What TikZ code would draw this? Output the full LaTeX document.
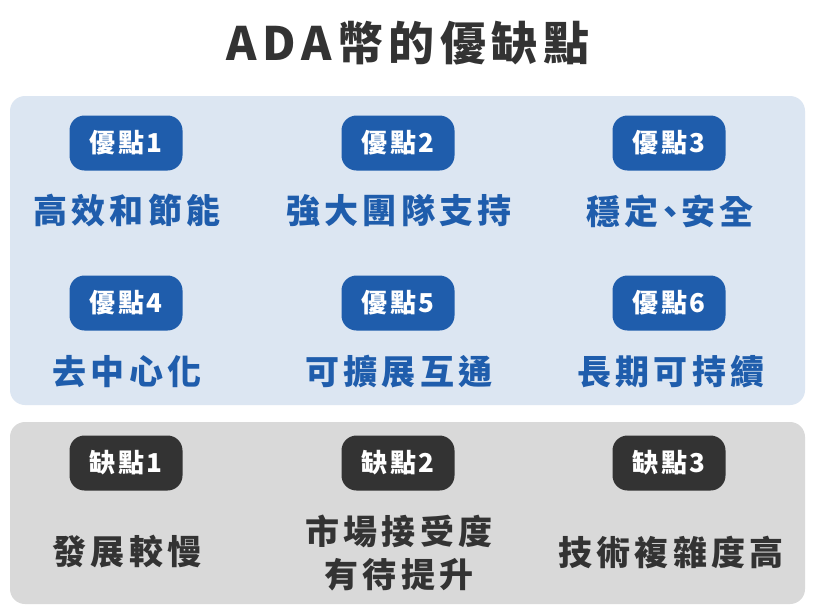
\documentclass[tikz,border=0pt]{standalone}
\usepackage{fontspec}
\usepackage{tikz}
\newfontfamily\cjk{Noto Sans CJK TC}
\definecolor{goodbg}{HTML}{DCE6F2}
\definecolor{goodfg}{HTML}{1F5DAC}
\definecolor{badbg}{HTML}{D9D9D9}
\definecolor{badfg}{HTML}{333333}
\tikzset{
	badge/.style={rounded corners=15pt, minimum width=113pt, minimum height=55pt, inner sep=0pt, text=white,
		font=\cjk\bfseries\fontsize{26}{28}\selectfont\addfontfeatures{LetterSpace=9}},
	label/.style={align=center, inner sep=0pt,
		font=\cjk\bfseries\fontsize{34}{43}\selectfont\addfontfeatures{LetterSpace=12}},
}

\begin{document}
\begin{tikzpicture}[x=1pt, y=-1pt]
			%%%%% START %%%%%
			
			\useasboundingbox (0, 0) rectangle (813, 614);
			\fill[white] (0, 0) rectangle (813, 614);
			
			\node[text=badfg, inner sep=0pt, font=\cjk\bfseries\fontsize{46}{50}\selectfont\addfontfeatures{LetterSpace=12}] (title) at (408, 43) {ADA幣的優缺點};
			
			\fill[goodbg, rounded corners=15pt] (10, 96) rectangle (805, 405);
			\fill[badbg, rounded corners=15pt] (10, 422) rectangle (805, 604);
			
			\node[badge, fill=goodfg] (good1) at (126, 143) {優點1};
			\node[badge, fill=goodfg] (good2) at (398, 143) {優點2};
			\node[badge, fill=goodfg] (good3) at (669, 143) {優點3};
			\node[label, text=goodfg] (goodtext1) at (127, 211) {高效和節能};
			\node[label, text=goodfg] (goodtext2) at (399, 211) {強大團隊支持};
			\node[label, text=goodfg] (goodtext3) at (670, 211) {穩定\kern-0.15em、\kern-0.15em安全};
			
			\node[badge, fill=goodfg] (good4) at (126, 303) {優點4};
			\node[badge, fill=goodfg] (good5) at (398, 303) {優點5};
			\node[badge, fill=goodfg] (good6) at (669, 303) {優點6};
			\node[label, text=goodfg] (goodtext4) at (127, 372) {去中心化};
			\node[label, text=goodfg] (goodtext5) at (399, 372) {可擴展互通};
			\node[label, text=goodfg] (goodtext6) at (671, 372) {長期可持續};
			
			\node[badge, fill=badfg] (bad1) at (126, 463) {缺點1};
			\node[badge, fill=badfg] (bad2) at (398, 463) {缺點2};
			\node[badge, fill=badfg] (bad3) at (669, 463) {缺點3};
			\node[label, text=badfg] (badtext1) at (127, 552) {發展較慢};
			\node[label, text=badfg] (badtext2) at (399, 553) {市場接受度\\有待提升};
			\node[label, text=badfg] (badtext3) at (671, 552) {技術複雜度高};
			
			%%%%% END %%%%%
		\end{tikzpicture}
\end{document}
